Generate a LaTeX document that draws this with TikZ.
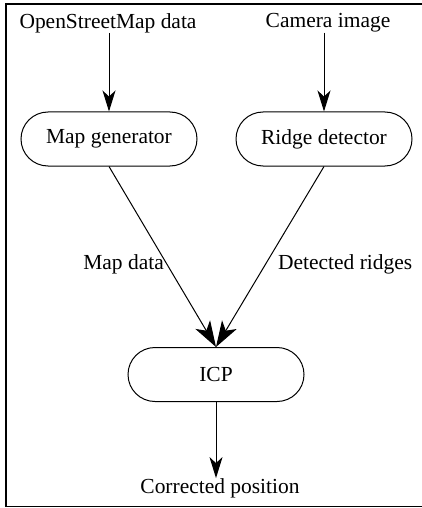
\documentclass[tikz,border=0pt]{standalone}
\usepackage{fontspec}
\setmainfont{Liberation Serif}
\usetikzlibrary{shapes.misc,arrows.meta}
\begin{document}
\begin{tikzpicture}[x=1pt,y=-1pt,
  every node/.style={font=\fontsize{21.46}{25}\selectfont},
  procbox/.style={draw,line width=1pt,rounded rectangle,minimum width=176pt,minimum height=54pt,inner sep=0pt},
  plain/.style={inner sep=0pt},
  flow/.style={line width=1pt,-{Stealth[length=21pt,width=13pt,inset=6pt]}},
  bigflow/.style={line width=1pt,-{Stealth[length=26pt,width=17pt,inset=7pt]}}]
\clip (0,0) rectangle (422,508);
\useasboundingbox (0,0) rectangle (422,508);
\draw[line width=1.2pt] (6,4) rectangle (440,506.5);
\node[plain] (osm) at (108,23) {OpenStreetMap data};
\node[plain] (cam) at (328,23) {Camera image};
\node[procbox] (mapgen) at (109,139) {Map generator};
\node[procbox] (ridge) at (324,139) {Ridge detector};
\node[procbox] (icp) at (216,374.5) {ICP};
\node[plain] (out) at (220,488) {Corrected position};
\draw[flow] (osm.south -| mapgen.north) -- (mapgen.north);
\draw[flow] (cam.south -| ridge.north) -- (ridge.north);
\draw[bigflow] (mapgen.south) -- (icp.north);
\draw[bigflow] (ridge.south) -- (icp.north);
\draw[flow] (icp.south) -- (out.north -| icp.south);
\node[plain,anchor=east] (lmap) at (164,264) {Map data};
\node[plain,anchor=west] (lridge) at (278,264) {Detected ridges};
\end{tikzpicture}
\end{document}
